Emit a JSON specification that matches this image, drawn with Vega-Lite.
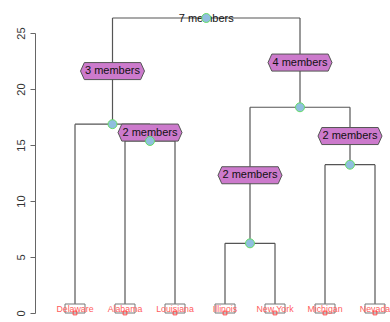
{
  "$schema": "https://vega.github.io/schema/vega-lite/v6.json",
  "width": 355,
  "height": 280,
  "autosize": {"type": "none"},
  "padding": {"left": 35, "top": 33, "right": 0, "bottom": 9},
  "background": "white",
  "config": {"view": {"stroke": null}, "font": "Liberation Sans"},
  "datasets": {
    "segs": [
      {"x": 1.75, "x2": 5.5, "y": 26.34, "y2": 26.34},
      {"x": 1.75, "x2": 1.75, "y": 26.34, "y2": 16.86},
      {"x": 5.5, "x2": 5.5, "y": 26.34, "y2": 18.37},
      {"x": 1, "x2": 2.5, "y": 16.86, "y2": 16.86},
      {"x": 1, "x2": 1, "y": 16.86, "y2": 0},
      {"x": 2.5, "x2": 2.5, "y": 16.86, "y2": 15.36},
      {"x": 2, "x2": 3, "y": 15.36, "y2": 15.36},
      {"x": 2, "x2": 2, "y": 15.36, "y2": 0},
      {"x": 3, "x2": 3, "y": 15.36, "y2": 0},
      {"x": 4.5, "x2": 6.5, "y": 18.37, "y2": 18.37},
      {"x": 4.5, "x2": 4.5, "y": 18.37, "y2": 6.22},
      {"x": 6.5, "x2": 6.5, "y": 18.37, "y2": 13.24},
      {"x": 4, "x2": 5, "y": 6.22, "y2": 6.22},
      {"x": 4, "x2": 4, "y": 6.22, "y2": 0},
      {"x": 5, "x2": 5, "y": 6.22, "y2": 0},
      {"x": 6, "x2": 7, "y": 13.24, "y2": 13.24},
      {"x": 6, "x2": 6, "y": 13.24, "y2": 0},
      {"x": 7, "x2": 7, "y": 13.24, "y2": 0}
    ],
    "nodes": [
      {"x": 3.625, "y": 26.34},
      {"x": 1.75, "y": 16.86},
      {"x": 2.5, "y": 15.36},
      {"x": 5.5, "y": 18.37},
      {"x": 4.5, "y": 6.22},
      {"x": 6.5, "y": 13.24}
    ],
    "edgeLabels": [
      {"x": 1.75, "y": 21.6, "label": "3 members"},
      {"x": 2.5, "y": 16.11, "label": "2 members"},
      {"x": 5.5, "y": 22.36, "label": "4 members"},
      {"x": 4.5, "y": 12.3, "label": "2 members"},
      {"x": 6.5, "y": 15.8, "label": "2 members"}
    ],
    "rootLabel": [
      {"x": 3.625, "y": 26.34, "label": "7 members"}
    ],
    "leaves": [
      {"x": 1, "y": 0, "label": "Delaware"},
      {"x": 2, "y": 0, "label": "Alabama"},
      {"x": 3, "y": 0, "label": "Louisiana"},
      {"x": 4, "y": 0, "label": "Illinois"},
      {"x": 5, "y": 0, "label": "New York"},
      {"x": 6, "y": 0, "label": "Michigan"},
      {"x": 7, "y": 0, "label": "Nevada"}
    ]
  },
  "encoding": {
    "x": {"field": "x", "type": "quantitative", "scale": {"domain": [0.2, 7.3], "nice": false, "zero": false}, "axis": null},
    "y": {"field": "y", "type": "quantitative", "scale": {"domain": [0, 25], "nice": false},
      "axis": {"title": null, "values": [0, 5, 10, 15, 20, 25], "grid": false, "labelAngle": 270, "labelAlign": "center", "labelBaseline": "middle", "labelPadding": 9, "labelFontSize": 11, "labelColor": "#333333", "tickSize": 5, "tickColor": "#666666", "domainColor": "#666666", "labelFont": "Liberation Sans"}}
  },
  "layer": [
    {
      "data": {"name": "segs"},
      "mark": {"type": "rule", "color": "#555555", "strokeWidth": 1.2, "clip": false},
      "encoding": {"x2": {"field": "x2"}, "y2": {"field": "y2"}}
    },
    {
      "data": {"name": "leaves"},
      "mark": {"type": "point", "shape": "M -1 -0.9 L 1 -0.9 L 1 0 L -1 0 Z", "size": 400, "filled": true, "fill": "white", "stroke": "#777777", "strokeWidth": 1, "opacity": 1}
    },
    {
      "data": {"name": "leaves"},
      "mark": {"type": "text", "color": "#ff5c5c", "fontSize": 8.8, "align": "center", "baseline": "middle", "dy": -4, "font": "Liberation Sans"},
      "encoding": {"text": {"field": "label"}}
    },
    {
      "data": {"name": "leaves"},
      "mark": {"type": "point", "shape": "square", "size": 14, "filled": false, "stroke": "#ff4444", "strokeWidth": 1, "opacity": 1}
    },
    {
      "data": {"name": "edgeLabels"},
      "mark": {"type": "point", "shape": "M -1 0 L -0.88 -0.266 L 0.88 -0.266 L 1 0 L 0.88 0.266 L -0.88 0.266 Z", "size": 4096, "filled": true, "fill": "#cc7acc", "stroke": "#555555", "strokeWidth": 1, "opacity": 1, "clip": false}
    },
    {
      "data": {"name": "edgeLabels"},
      "mark": {"type": "text", "color": "#111111", "fontSize": 11, "align": "center", "baseline": "middle", "font": "Liberation Sans"},
      "encoding": {"text": {"field": "label"}}
    },
    {
      "data": {"name": "rootLabel"},
      "mark": {"type": "text", "color": "#111111", "fontSize": 11, "align": "center", "baseline": "middle", "dy": 1.5, "font": "Liberation Sans", "clip": false},
      "encoding": {"text": {"field": "label"}}
    },
    {
      "data": {"name": "nodes"},
      "mark": {"type": "point", "shape": "circle", "size": 80, "filled": true, "fill": "#8fbfdf", "stroke": "#66dd66", "strokeWidth": 1, "opacity": 1, "clip": false}
    }
  ]
}
